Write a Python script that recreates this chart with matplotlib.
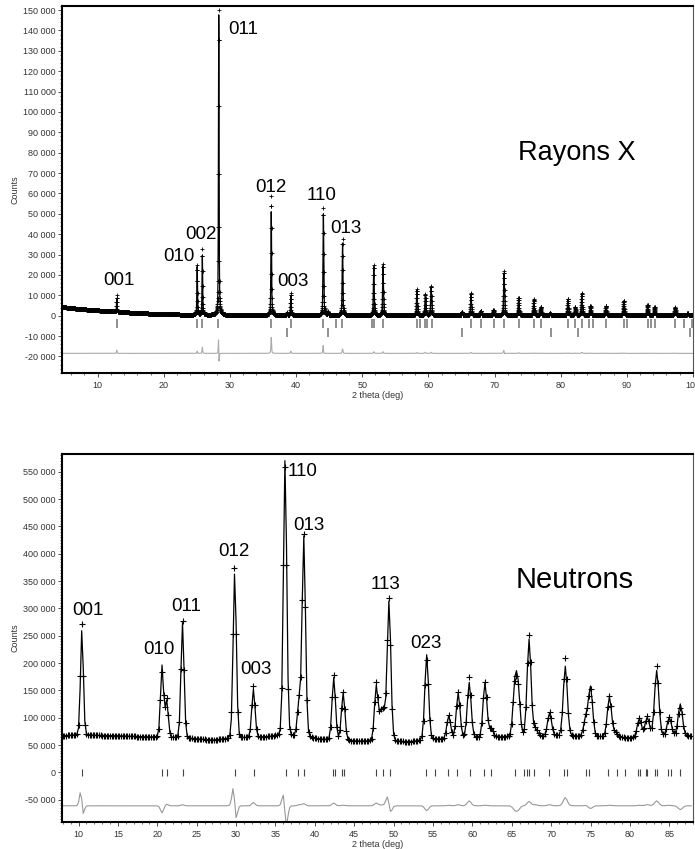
import numpy as np
import matplotlib
import matplotlib.pyplot as plt
from matplotlib.ticker import MultipleLocator, FuncFormatter

matplotlib.use('Agg')
plt.rcParams['font.family'] = ['Liberation Sans', 'DejaVu Sans']

# ---- X-ray data ----
xr_bg_x = [4.6, 6, 8, 10, 12, 15, 18, 20, 25, 30, 40, 60, 80, 100]
xr_bg_y = [4300, 3700, 3100, 2600, 2100, 1500, 1000, 700, 400, 300, 200, 150, 100, 100]
xr_pos = [12.88, 25.04, 25.82, 28.30, 36.24, 38.60, 39.20, 44.12, 44.80, 47.02, 51.74, 53.14,
          58.26, 59.54, 60.42, 65.08, 66.44, 67.94, 69.84, 71.44, 73.64, 75.94, 77.00,
          78.40, 81.10, 82.20, 83.20, 84.50, 86.84, 89.54, 93.14, 94.20, 97.30, 99.20]
xr_obs = [10000, 25000, 32500, 150000, 58800, 1500, 11000, 53000, 1800, 37700, 24800, 25300,
          12900, 10500, 14500, 2000, 11000, 2500, 2800, 22000, 8800, 8200, 4400,
          1500, 8200, 4400, 11000, 4700, 4700, 7400, 5200, 4100, 4100, 1200]
xr_calc = [8500, 24000, 29500, 148000, 51000, 1500, 10000, 50000, 1800, 35500, 24000, 24500,
           12500, 10000, 14000, 2000, 10500, 2500, 2800, 21000, 8500, 8000, 4300,
           1500, 8000, 4300, 10500, 4600, 4600, 7200, 5100, 4000, 4000, 1200]
xr_shift = [0, 0, 0, 0.003, 0, 0, 0, 0.003, 0, 0, 0, 0,
            0, 0, 0, 0, 0, 0, 0, 0.004, 0, 0, 0,
            0, 0, 0, 0, 0, 0, 0, 0, 0, 0, 0]
xr_ticks1 = [12.9, 25.07, 25.83, 28.2, 36.25, 39.2, 44.1, 46.0, 47.0, 51.4, 51.8, 53.15,
             58.3, 58.7, 59.5, 59.8, 60.5, 66.45, 68.0, 69.9, 71.5, 73.65, 75.94, 77.0,
             81.1, 82.2, 83.2, 84.3, 84.9, 86.85, 89.6, 90.0, 93.15, 93.65, 94.2, 97.3,
             98.7, 99.9]
xr_ticks2 = [38.6, 44.85, 65.1, 78.5, 82.6, 99.5]
xr_labels = ['011', '012', '110', '013', '003', '002', '010', '001']
xr_lab_x = [29.77, 33.87, 41.6, 45.1, 37.1, 23.25, 19.9, 10.8]
xr_lab_y = [138500, 60900, 57000, 40800, 14700, 37800, 27000, 15200]

# ---- neutron data ----
n_bg_x = [7.9, 10, 15, 20, 25, 27, 33, 35, 40, 42, 45, 52, 55, 60, 63, 70, 75, 80, 85, 88]
n_bg_y = [67000, 68000, 67000, 64000, 61000, 59000, 64000, 65500, 61000, 58500, 57000, 55500,
          60000, 62500, 64000, 66000, 65000, 63000, 66000, 66000]
n_pos = [10.40, 20.60, 21.20, 23.20, 29.80, 32.20, 36.20, 38.00, 38.60, 42.40, 43.60,
         47.80, 48.40, 48.80, 49.40, 54.20, 57.00, 58.20, 59.60, 61.60, 62.40, 65.40,
         65.80, 67.20, 68.00, 69.80, 71.80, 74.40, 75.00, 77.40, 78.20, 81.20, 82.20,
         83.40, 85.00, 86.40]
n_obs = [272000, 182000, 133000, 276000, 374000, 158000, 558000, 128000, 434000, 178000,
         146000, 162000, 100000, 98000, 316000, 206000, 104000, 147000, 173000, 165000,
         80000, 145000, 138000, 251000, 80000, 110000, 209000, 99000, 150000, 139000, 72000,
         99000, 102000, 195000, 101000, 118000]
n_calc = [262000, 195000, 130000, 274000, 366000, 152000, 572000, 126000, 430000, 173000,
          145000, 157000, 99000, 97000, 312000, 215000, 103000, 145000, 164000, 164000,
          80000, 152000, 145000, 243000, 78000, 108000, 194000, 98000, 155000, 138000, 72000,
          98000, 100000, 186000, 100000, 125000]
n_shift = [0.03, 0, 0, 0, 0.03, 0, 0.02, 0, 0, 0, 0,
           0, 0, 0, 0.02, 0, 0, 0, 0, 0, 0, 0,
           0, 0, 0, 0, 0, 0, 0, 0, 0, 0, 0,
           0, 0, 0]
n_ticks = [10.42, 20.64, 21.2, 23.26, 29.9, 32.3, 36.4, 37.92, 38.64, 42.25, 42.5, 43.43,
           43.64, 47.8, 48.65, 49.5, 54.14, 55.28, 56.9, 58.03, 59.72, 61.5, 62.34, 65.43,
           66.61, 66.9, 67.24, 67.88, 69.78, 71.64, 71.98, 74.39, 74.85, 77.26, 78.32,
           79.37, 81.06, 81.28, 82.0, 82.2, 83.18, 83.47, 84.87, 85.16, 86.35]
n_labels = ['001', '011', '012', '110', '013', '010', '003', '113', '023']
n_lab_x = [9.15, 21.72, 27.69, 36.58, 37.22, 18.16, 30.48, 47.12, 52.07]
n_lab_y = [287200, 294500, 395100, 541400, 442700, 215800, 179300, 334700, 226800]


def pseudo_voigt(x, pos, amp, fwhm, eta):
    d = (x - pos) / fwhm
    gauss = np.exp(-4 * np.log(2) * d ** 2)
    lor = 1 / (1 + 4 * d ** 2)
    return amp * (eta * lor + (1 - eta) * gauss)


def pattern(x, bg_x, bg_y, pos, tops, shifts, fwhm, eta):
    y = np.interp(x, bg_x, bg_y)
    for p, t, s in zip(pos, tops, shifts):
        amp = t - np.interp(p, bg_x, bg_y)
        y = y + pseudo_voigt(x, p + s, amp, fwhm(p), eta)
    return y


def space_fmt(v, _):
    return f'{v:,.0f}'.replace(',', ' ')


def style_axes(ax):
    for side in ['left', 'bottom', 'top']:
        ax.spines[side].set_linewidth(1.5)
        ax.spines[side].set_color('black')
    ax.spines['right'].set_linewidth(0.8)
    ax.spines['right'].set_color('#555555')
    ax.yaxis.set_major_formatter(FuncFormatter(space_fmt))
    ax.tick_params(which='major', direction='out', length=3, width=0.6, colors='#333333',
                   labelsize=6.5, pad=1.5)
    ax.tick_params(which='minor', direction='out', length=1.5, width=0.5, colors='#333333')
    ax.tick_params(axis='x', pad=3)
    ax.set_ylabel('Counts', fontsize=6.5, color='#333333', labelpad=3)
    ax.set_xlabel('2 theta (deg)', fontsize=6.5, color='#333333', labelpad=1)


fig = plt.figure(figsize=(6.95, 8.49), dpi=100)

# ---- top panel: X-rays ----
ax1 = fig.add_axes([0.0892, 0.561, 0.9078, 0.4319])
x1 = np.arange(4.6, 100.0, 0.02)
xr_w = lambda p: 0.07 + 0.0015 * p
obs1 = pattern(x1, xr_bg_x, xr_bg_y, xr_pos, xr_obs, [0] * len(xr_pos), xr_w, 0.5)
calc1 = pattern(x1, xr_bg_x, xr_bg_y, xr_pos, xr_calc, xr_shift, xr_w, 0.5)
ax1.plot(x1, obs1 - calc1 - 18500, color='#aaaaaa', lw=0.8)
ax1.vlines(xr_ticks1, -6000, -1500, color='#888888', lw=1.3)
ax1.vlines(xr_ticks2, -10500, -6000, color='#888888', lw=1.3)
ax1.plot(x1, obs1, ls='none', marker='+', ms=3.5, mew=0.6, color='black')
ax1.plot(x1, calc1, color='black', lw=0.9)
for t, lx, ly in zip(xr_labels, xr_lab_x, xr_lab_y):
    ax1.text(lx, ly, t, fontsize=13.5, ha='left', va='baseline')
ax1.text(73.6, 76500, 'Rayons X', fontsize=19.5, ha='left', va='baseline')
ax1.set_xlim(4.6, 100)
ax1.set_ylim(-28000, 152000)
ax1.xaxis.set_major_locator(MultipleLocator(10))
ax1.xaxis.set_minor_locator(MultipleLocator(2))
ax1.yaxis.set_major_locator(MultipleLocator(10000))
ax1.yaxis.set_minor_locator(MultipleLocator(2000))
style_axes(ax1)

# ---- bottom panel: neutrons ----
ax2 = fig.add_axes([0.0892, 0.0322, 0.9078, 0.4327])
x2 = np.arange(8.0, 88.0, 0.2)
n_w = lambda p: 0.42 + 0.003 * (p - 10)
obs2 = pattern(x2, n_bg_x, n_bg_y, n_pos, n_obs, [0] * len(n_pos), n_w, 0.1)
calc2 = pattern(x2, n_bg_x, n_bg_y, n_pos, n_calc, n_shift, n_w, 0.1)
ax2.plot(x2, obs2 - calc2 - 61000, color='#999999', lw=0.8)
ax2.vlines(n_ticks, -7000, 7000, color='#444444', lw=0.8)
ax2.plot(x2, obs2, ls='none', marker='+', ms=4, mew=0.8, color='black')
ax2.plot(x2, calc2, color='black', lw=0.9)
for t, lx, ly in zip(n_labels, n_lab_x, n_lab_y):
    ax2.text(lx, ly, t, fontsize=13.5, ha='left', va='baseline')
ax2.text(65.5, 337800, 'Neutrons', fontsize=21, ha='left', va='baseline')
ax2.set_xlim(7.9, 88.0)
ax2.set_ylim(-90000, 582000)
ax2.xaxis.set_major_locator(MultipleLocator(5))
ax2.xaxis.set_minor_locator(MultipleLocator(1))
ax2.yaxis.set_major_locator(MultipleLocator(50000))
ax2.yaxis.set_minor_locator(MultipleLocator(5000))
style_axes(ax2)

fig.savefig('out.png', dpi=100)
